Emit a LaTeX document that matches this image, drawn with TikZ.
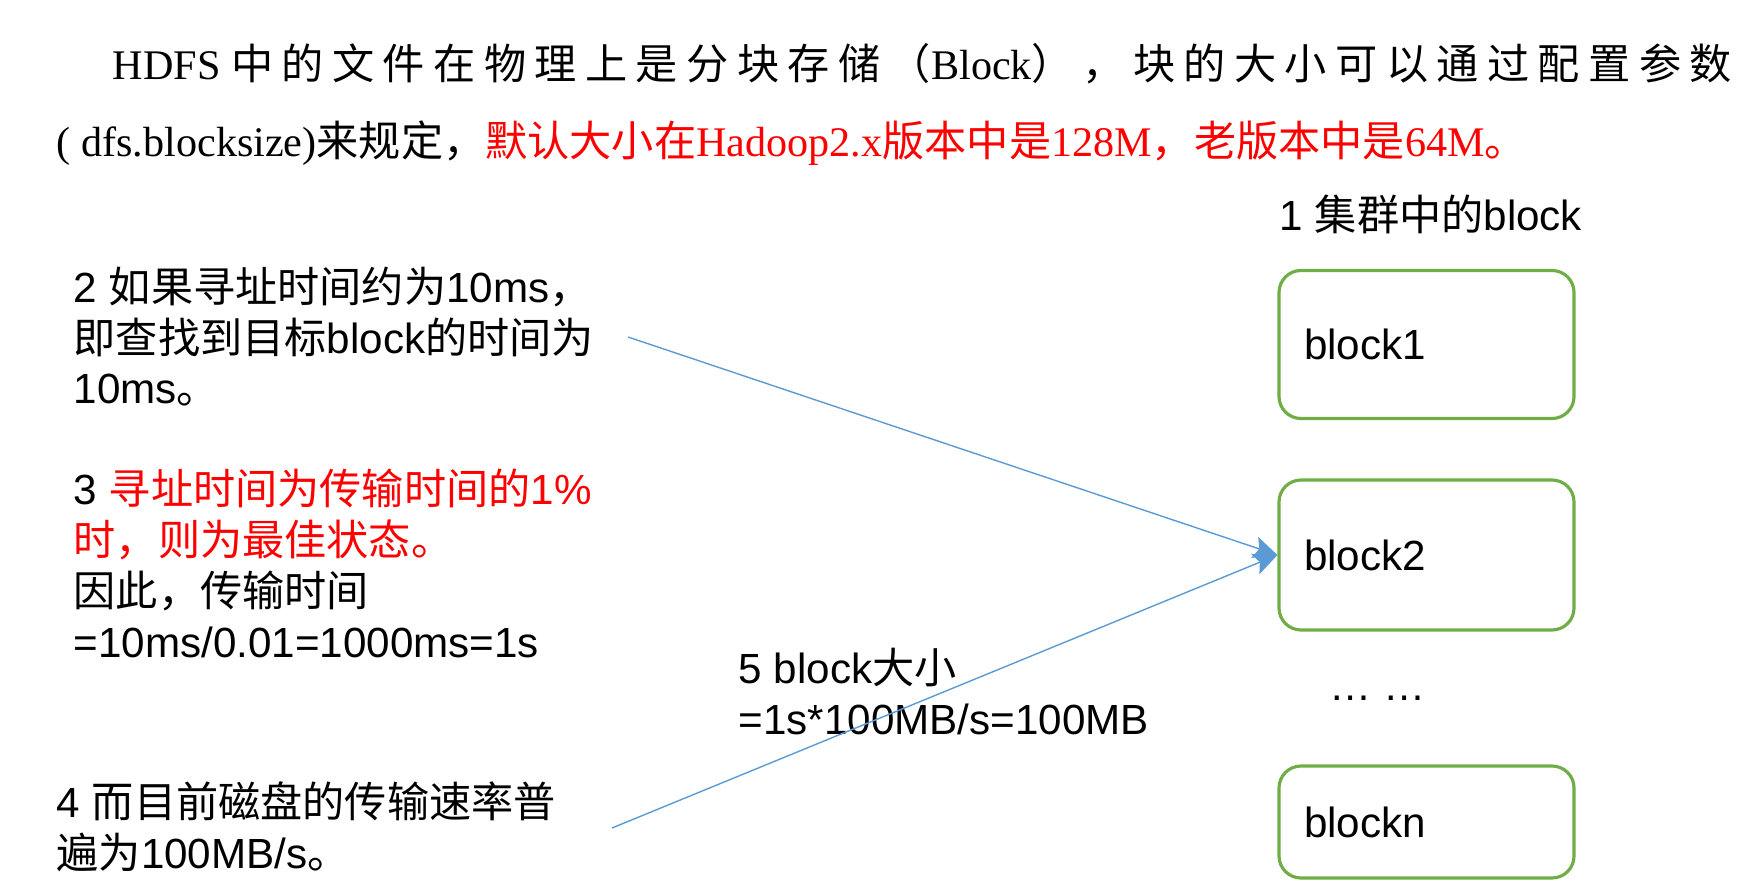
\documentclass[tikz,border=0pt]{standalone}
\usepackage{fontspec}
\setmainfont{Liberation Sans}
\newfontfamily\cjk{Noto Sans CJK SC}
\newfontfamily\cjkwide[LetterSpace=20]{Noto Sans CJK SC}
\newfontfamily\timesfont{Liberation Serif}
\usepackage{xcolor}
\usetikzlibrary{positioning,arrows.meta}
\definecolor{blockgreen}{HTML}{70AD47}
\definecolor{linkblue}{HTML}{5B9BD5}
\newcommand{\zh}[1]{{\cjk #1}}
\tikzstyle{blockbox} = [draw=blockgreen, line width=0.9pt, rectangle,
    rounded corners=2.2mm, text width=24.5mm, inner xsep=2.5mm, align=left,
    font=\fontsize{12pt}{14.5pt}\selectfont]
\tikzstyle{note} = [anchor=base west, align=left, inner sep=0pt,
    font=\fontsize{12pt}{14.5pt}\selectfont]
\tikzstyle{link} = [draw=linkblue, line width=0.4pt, -{Stealth[length=2.4mm,width=2.2mm,inset=0.5mm]}]

\begin{document}
\begin{tikzpicture}[x=0.1mm, y=-0.1mm]
\useasboundingbox (0,0) rectangle (1754,886);
\node[note] (intro) at (112,80) {\timesfont HDFS \cjkwide 中的文件在物理上是分块存储（{\timesfont Block}），块的大小可以通过配置参数};
\node[note] (rule) at (56,157) {\timesfont ( dfs.blocksize)\zh{来规定，}\color{red}\zh{默认大小在}Hadoop2.x\zh{版本中是}128M\zh{，老版本中是}64M\zh{。}};
\node[note] (title) at (1279,231) {1 \zh{集群中的}block};
\node[blockbox, minimum height=14.8mm] (b1) at (1426.5,344.5) {block1};
\node[blockbox, minimum height=15mm] (b2) at (1426.5,555) {block2};
\node[note] (dots) at (1329,700) {… …};
\node[blockbox, minimum height=11.2mm] (bn) at (1426.5,822) {blockn};
\node[note] (seektime) at (73,404) {2 \zh{如果寻址时间约为}10ms\zh{，}\\\zh{即查找到目标}block\zh{的时间为}\\10ms\zh{。}};
\node[note] (best) at (73,657) {3 {\color{red}\zh{寻址时间为传输时间的}1\%}\\{\color{red}\zh{时，则为最佳状态。}}\\\zh{因此，传输时间}\\=10ms/0.01=1000ms=1s};
\node[note] (size) at (738,734) {5 block\zh{大小}\\=1s*100MB/s=100MB};
\node[note] (disk) at (56,868) {4 \zh{而目前磁盘的传输速率普}\\\zh{遍为}100MB/s\zh{。}};
\coordinate (seekfrom) at (628,337);
\coordinate (diskfrom) at (612,828);
\draw[link] (seekfrom) -- (b2.west);
\draw[link] (diskfrom) -- (b2.west);
\end{tikzpicture}
\end{document}
